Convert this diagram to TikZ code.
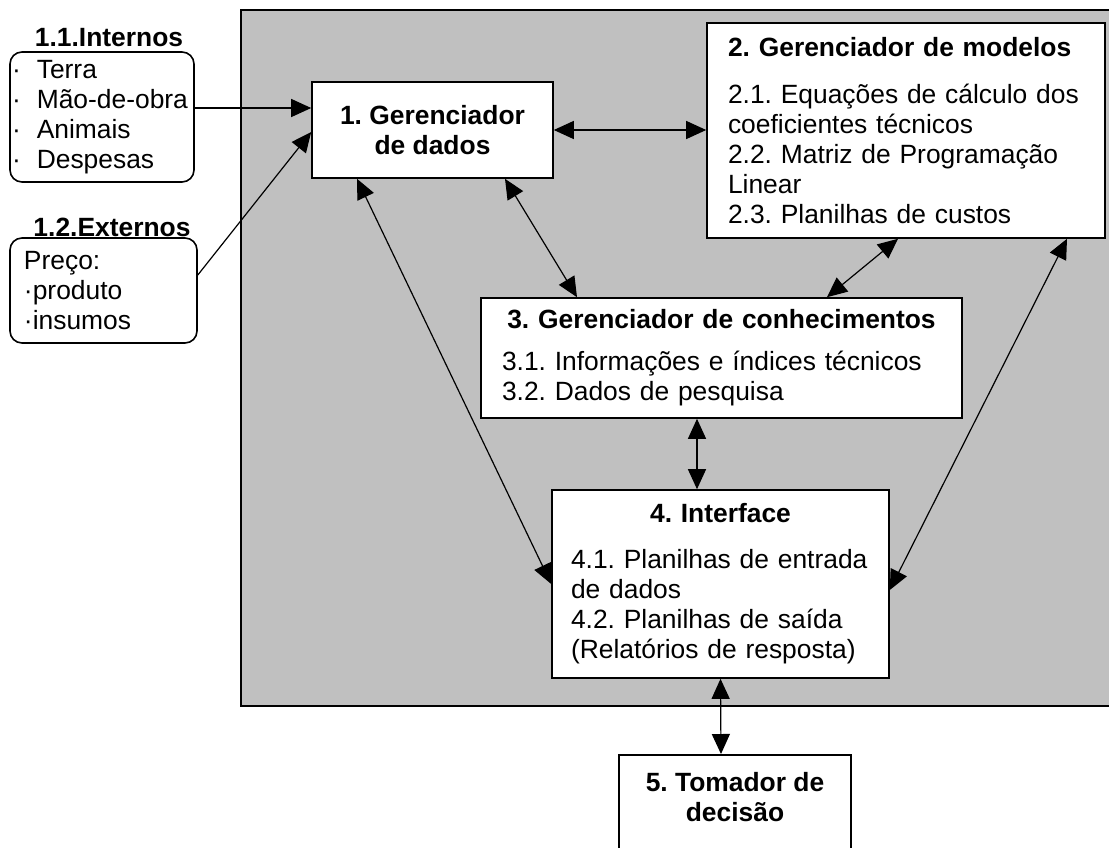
\documentclass[tikz,border=0pt]{standalone}
\usepackage{fontspec}
\setmainfont{Liberation Sans}
\frenchspacing
\definecolor{dsPanel}{HTML}{C0C0C0}
\newcommand{\dsSize}{\fontsize{13.2}{15}\selectfont}
\newcommand{\dsDot}{·\hspace{8pt}}
\usetikzlibrary{arrows.meta}

\begin{document}
\begin{tikzpicture}[x=0.5pt, y=-0.5pt,
  every node/.style={font=\dsSize},
  dsBox/.style={draw, fill=white, line width=0.8pt, inner ysep=0pt},
  dsSide/.style={draw, fill=white, line width=0.8pt, rounded corners=6pt, align=left, inner ysep=0pt},
  dsLink/.style={line width=0.6pt, {Triangle[length=10pt,width=9pt]}-{Triangle[length=10pt,width=9pt]}},
  dsFeed/.style={line width=0.6pt, -{Triangle[length=10pt,width=9pt]}}]
  \useasboundingbox (0,0) rectangle (1109,847);
  % grey panel round the system, its right side runs off the page
  \fill[dsPanel] (241,10) rectangle (1109,706);
  \draw[line width=0.8pt] (1109,10) -- (241,10) -- (241,706) -- (1109,706);

  % inputs on the left
  \node[font=\dsSize\bfseries] (intLbl) at (109,38) {1.1.Internos};
  \node[dsSide, minimum width=92pt, minimum height=65pt, text width=90pt, inner xsep=1pt] (internos) at (102,117)
    {\dsDot Terra\\\dsDot Mão-de-obra\\\dsDot Animais\\\dsDot Despesas};
  \node[font=\dsSize\bfseries] (extLbl) at (112,227) {1.2.Externos};
  \node[dsSide, minimum width=93.5pt, minimum height=52.5pt, text width=79.5pt, inner xsep=7pt] (externos) at (103.5,290.5)
    {Preço:\\·produto\\·insumos};

  % the five parts
  \node[dsBox, minimum width=120.5pt, minimum height=48pt, align=center, font=\dsSize\bfseries] (dados) at (432.5,130)
    {1. Gerenciador\\de dados};
  \node[dsBox, minimum width=199pt, minimum height=107.5pt, text width=178pt, inner xsep=10.5pt, align=left] (modelos) at (906,130.5)
    {\textbf{2. Gerenciador de modelos}\\[8.5pt]2.1. Equações de cálculo dos\\coeficientes técnicos\\2.2. Matriz de Programação\\Linear\\2.3. Planilhas de custos};
  \node[dsBox, minimum width=240.5pt, minimum height=60pt, text width=219.5pt, inner xsep=10.5pt, align=left] (conhec) at (721.5,358)
    {\makebox[\hsize]{\textbf{3. Gerenciador de conhecimentos}}\\[6pt]3.1. Informações e índices técnicos\\3.2. Dados de pesquisa};
  \node[dsBox, minimum width=168.5pt, minimum height=94pt, text width=149.5pt, inner xsep=9.5pt, align=left] (interface) at (720.5,584)
    {\makebox[\hsize]{\textbf{4. Interface}}\\[8pt]4.1. Planilhas de entrada\\de dados\\4.2. Planilhas de saída\\(Relatórios de resposta)};
  \node[dsBox, anchor=north, minimum width=116pt, inner ysep=9pt, text depth=30pt, align=center, font=\dsSize\bfseries] (decisor) at (735,754)
    {5. Tomador de\\decisão};

  % connectors
  \draw[dsFeed] ([yshift=4.5pt]internos.east) -- ([yshift=11pt]dados.west);
  \draw[dsFeed] ([yshift=7.75pt]externos.east) -- ([yshift=-1pt]dados.west);
  \draw[dsLink] (dados.east) -- (dados.east -| modelos.west);
  \draw[dsLink] ([xshift=-37.75pt]dados.south) -- (interface.west);
  \draw[dsLink] ([xshift=36.25pt]dados.south) -- ([xshift=-72.25pt]conhec.north);
  \draw[dsLink] ([xshift=-4pt]modelos.south) -- ([xshift=52.75pt]conhec.north);
  \draw[dsLink] ([xshift=80.5pt]modelos.south) -- ([yshift=-3pt]interface.east);
  \draw[dsLink] ([xshift=-12.25pt]conhec.south) -- ([xshift=-11.75pt]interface.north);
  \draw[dsLink] (interface.south) -- ([xshift=-7pt]decisor.north);
\end{tikzpicture}
\end{document}
